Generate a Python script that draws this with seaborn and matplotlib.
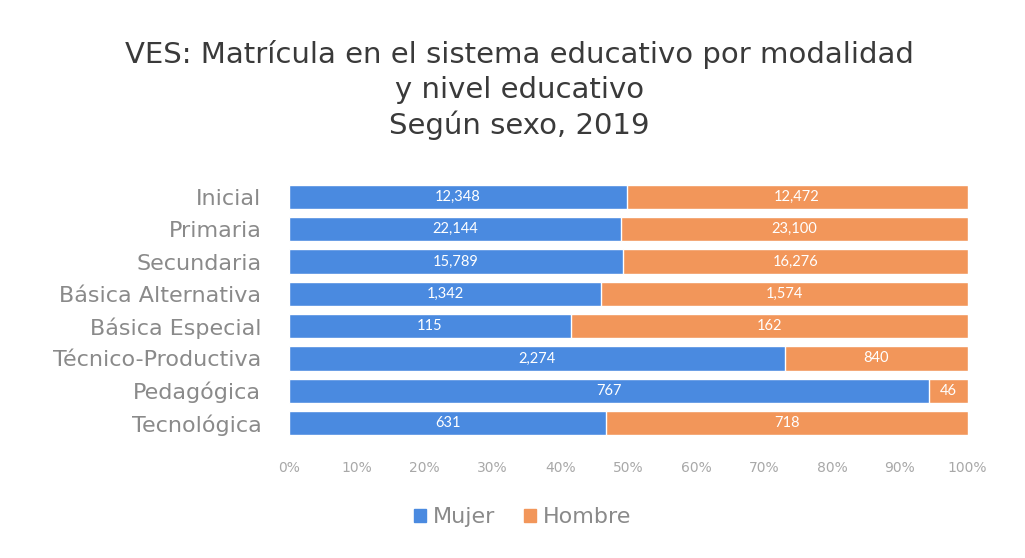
import pandas as pd
import numpy as np
import matplotlib
matplotlib.use('Agg')
import matplotlib.pyplot as plt
import seaborn as sns
from matplotlib.patches import Patch
from matplotlib.ticker import PercentFormatter

niveles = ['Inicial', 'Primaria', 'Secundaria', 'Básica Alternativa',
           'Básica Especial', 'Técnico-Productiva', 'Pedagógica', 'Tecnológica']
mujer = [12348, 22144, 15789, 1342, 115, 2274, 767, 631]
hombre = [12472, 23100, 16276, 1574, 162, 840, 46, 718]

AZUL = '#4A8AE0'
NARANJA = '#F2965A'
GRIS = '#8a8a8a'

sns.set_theme(style='white')
plt.rcParams['font.family'] = ['DejaVu Sans']

df = pd.DataFrame({'Nivel': niveles, 'Mujer': mujer, 'Hombre': hombre})
df['Total'] = df['Mujer'] + df['Hombre']
df['pct_m'] = df['Mujer'] / df['Total']
df['pct_total'] = 1.0

fig = plt.figure(figsize=(10.25, 5.58), dpi=100)
ax = fig.add_axes([0.282, 0.213, 0.662, 0.463])

sns.barplot(data=df, y='Nivel', x='pct_total', color=NARANJA, width=0.75,
            saturation=1, ax=ax, orient='h')
sns.barplot(data=df, y='Nivel', x='pct_m', color=AZUL, width=0.75,
            saturation=1, ax=ax, orient='h')

# etiquetas de valores
for i, row in df.iterrows():
    ax.text(row['pct_m'] / 2, i, f"{row['Mujer']:,}", ha='center', va='center',
            color='white', fontsize=10.5, family='Lato')
    ax.text(row['pct_m'] + (1 - row['pct_m']) / 2, i, f"{row['Hombre']:,}",
            ha='center', va='center', color='white', fontsize=10.5, family='Lato')

ax.set_xlim(0, 1)
ax.set_xticks(np.arange(0, 1.01, 0.1))
ax.xaxis.set_major_formatter(PercentFormatter(1.0, decimals=0))
ax.tick_params(axis='x', colors='#a8a8a8', labelsize=10, length=0, pad=16)
ax.tick_params(axis='y', colors=GRIS, labelsize=16, length=0, pad=20)
ax.set_xlabel('')
ax.set_ylabel('')
sns.despine(ax=ax, left=True, bottom=True)

fig.text(0.507, 0.838, 'VES: Matrícula en el sistema educativo por modalidad\n'
         'y nivel educativo\nSegún sexo, 2019',
         ha='center', va='center', fontsize=21, color='#3a3a3a', linespacing=1.3)

handles = [Patch(color=AZUL, label='Mujer'), Patch(color=NARANJA, label='Hombre')]
fig.legend(handles=handles, loc='center', bbox_to_anchor=(0.51, 0.073), ncol=2,
           frameon=False, fontsize=16, handlelength=0.55, handleheight=0.55,
           handletextpad=0.3, columnspacing=1.3, labelcolor=GRIS)

plt.savefig('out.png', dpi=100)
plt.close()
